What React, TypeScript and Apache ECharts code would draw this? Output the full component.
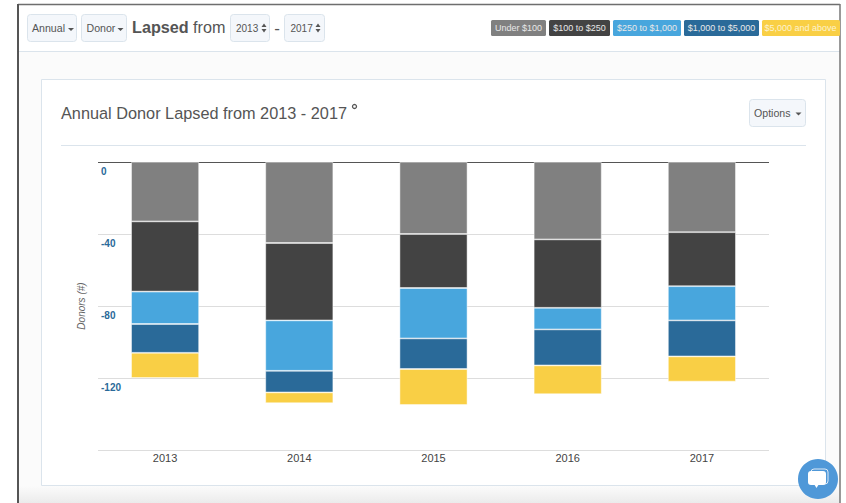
import React, { useEffect, useRef } from "react";
import * as echarts from "echarts";

const years = ["2013", "2014", "2015", "2016", "2017"];
const yTicks = [0, -40, -80, -120];

const seriesNames = ["Under $100", "$100 to $250", "$250 to $1,000", "$1,000 to $5,000", "$5,000 and above"];
const seriesColors = ["#808080", "#434343", "#48a6dd", "#2a6a99", "#f9cf45"];

const under100 = [-33, -45, -40, -43, -39];
const from100to250 = [-39, -43, -30, -38, -30];
const from250to1000 = [-18, -28, -28, -12, -19];
const from1000to5000 = [-16, -12, -17, -20, -20];
const above5000 = [-14, -6, -20, -16, -14];
const seriesValues = [under100, from100to250, from250to1000, from1000to5000, above5000];

const FONT = "'Liberation Sans', Arial, sans-serif";
const TEXT = "#555555";
const BORDER = "#dbe4ec";

// Rounded bootstrap-style button with a left-set caption.
function button(x: number, y: number, w: number, h: number, label: string, textX: number, fontSize = 10.6) {
  return [
    {
      type: "rect",
      z: -1,
      shape: { x: x + 0.5, y: y + 0.5, width: w, height: h, r: 3 },
      style: { fill: "#f4f7fb", stroke: BORDER, lineWidth: 1 },
    },
    {
      type: "text",
      z: -1,
      x: textX,
      y: y + h / 2 + 0.5,
      style: { text: label, fill: TEXT, font: `${fontSize}px ${FONT}`, verticalAlign: "middle", textAlign: "left" },
    },
  ];
}

function caret(x: number, y: number, size = 3) {
  return {
    type: "polygon",
    z: -1,
    shape: { points: [[x - size, y], [x + size, y], [x, y + size]] },
    style: { fill: TEXT },
  };
}

function spinner(x: number, y: number) {
  return [
    {
      type: "polygon",
      z: -1,
      shape: { points: [[x - 2.5, y - 1], [x + 2.5, y - 1], [x, y - 4.5]] },
      style: { fill: TEXT },
    },
    {
      type: "polygon",
      z: -1,
      shape: { points: [[x - 2.5, y + 1], [x + 2.5, y + 1], [x, y + 4.5]] },
      style: { fill: TEXT },
    },
  ];
}

const badgeBoxes = [
  [491, 55],
  [549, 61],
  [613, 68],
  [684, 75],
  [762, 78],
];

function badges() {
  return seriesNames.flatMap((name, i) => {
    const [x, w] = badgeBoxes[i];
    return [
      {
        type: "rect",
        z: -1,
        shape: { x, y: 20, width: w, height: 16, r: 1.5 },
        style: { fill: seriesColors[i] },
      },
      {
        type: "text",
        z: -1,
        x: x + w / 2 - (i === 4 ? 0.5 : 0),
        y: 28,
        style: {
          text: name,
          fill: i === 4 ? "#fdf3d0" : "#e8e8e8",
          font: `9px ${FONT}`,
          textAlign: "center",
          verticalAlign: "middle",
        },
      },
    ];
  });
}

function pageChrome() {
  return [
    // Panel behind the card, with the soft shadow along the page bottom.
    { type: "rect", z: -1, shape: { x: 18, y: 5, width: 822, height: 498 }, style: { fill: "#fbfbfb" } },
    {
      type: "rect",
      z: -1,
      shape: { x: 18, y: 486, width: 822, height: 17 },
      style: {
        fill: {
          type: "linear",
          x: 0,
          y: 0,
          x2: 0,
          y2: 1,
          colorStops: [
            { offset: 0, color: "#fbfbfb" },
            { offset: 1, color: "#ebebeb" },
          ],
        },
      },
    },
    // Toolbar strip
    { type: "rect", z: -1, shape: { x: 18, y: 5, width: 822, height: 46 }, style: { fill: "#ffffff" } },
    { type: "line", z: -1, shape: { x1: 18, y1: 51.5, x2: 840, y2: 51.5 }, style: { stroke: BORDER, lineWidth: 1 } },
    // Window frame
    { type: "line", z: -1, shape: { x1: 18, y1: 4.5, x2: 840, y2: 4.5 }, style: { stroke: "#6e6e6e", lineWidth: 1.5 } },
    { type: "line", z: -1, shape: { x1: 18, y1: 4, x2: 18, y2: 503 }, style: { stroke: "#555555", lineWidth: 2 } },
    { type: "line", z: -1, shape: { x1: 840, y1: 4, x2: 840, y2: 503 }, style: { stroke: "#777777", lineWidth: 1.5 } },
    // Card
    {
      type: "rect",
      z: -1,
      shape: { x: 41.5, y: 79.5, width: 784, height: 406 },
      style: { fill: "#ffffff", stroke: BORDER, lineWidth: 1 },
    },
    { type: "line", z: -1, shape: { x1: 61, y1: 145.5, x2: 806, y2: 145.5 }, style: { stroke: BORDER, lineWidth: 1 } },
    // Toolbar controls
    ...button(27, 14, 49, 27, "Annual", 32),
    caret(71, 28),
    ...button(81, 14, 45, 27, "Donor", 86.5),
    caret(120.5, 28),
    {
      type: "text",
      z: -1,
      x: 132,
      y: 27,
      style: { text: "Lapsed", fill: TEXT, font: `bold 16.2px ${FONT}`, verticalAlign: "middle" },
    },
    {
      type: "text",
      z: -1,
      x: 193,
      y: 27,
      style: { text: "from", fill: TEXT, font: `16.2px ${FONT}`, verticalAlign: "middle" },
    },
    ...button(230, 14, 39, 27, "2013", 236, 10),
    ...spinner(264, 28),
    {
      type: "text",
      z: -1,
      x: 277,
      y: 28,
      style: { text: "-", fill: TEXT, font: `17px ${FONT}`, verticalAlign: "middle", textAlign: "center" },
    },
    ...button(284, 14, 40, 27, "2017", 290.5, 10),
    ...spinner(318, 28),
    ...badges(),
    // Card heading
    {
      type: "text",
      z: -1,
      x: 61,
      y: 112.5,
      style: { text: "Annual Donor Lapsed from 2013 - 2017", fill: TEXT, font: `16.3px ${FONT}`, verticalAlign: "middle" },
    },
    { type: "circle", z: -1, shape: { cx: 354.5, cy: 106.5, r: 2 }, style: { fill: "none", stroke: TEXT, lineWidth: 1.3 } },
    ...button(749, 99, 56, 27, "Options", 754),
    caret(798.5, 112.5),
    // Chat launcher
    { type: "circle", z: -1, shape: { cx: 818, cy: 479, r: 20 }, style: { fill: "#4f98d8" } },
    {
      type: "rect",
      z: -1,
      shape: { x: 811, y: 469, width: 17, height: 15, r: 3 },
      style: { fill: "none", stroke: "#dfeaf6", lineWidth: 1 },
    },
    { type: "rect", z: -1, shape: { x: 808, y: 471, width: 18, height: 14, r: 3 }, style: { fill: "#ffffff" } },
    { type: "polygon", z: -1, shape: { points: [[814, 484], [819, 484], [816.5, 488]] }, style: { fill: "#ffffff" } },
  ];
}

export default function App() {
  const ref = useRef<HTMLDivElement>(null);

  useEffect(() => {
    const chart = echarts.init(ref.current!, undefined, { renderer: "svg" });
    chart.setOption({
      animation: false,
      backgroundColor: "#ffffff",
      textStyle: { fontFamily: FONT },
      grid: { left: 98, right: 77, top: 162, bottom: 53 },
      graphic: { elements: pageChrome() },
      xAxis: {
        type: "category",
        data: years,
        position: "bottom",
        axisLine: { onZero: false, show: false },
        axisTick: { show: false },
        axisLabel: { color: "#444444", fontSize: 11, margin: 2 },
      },
      yAxis: {
        type: "value",
        min: -160,
        max: 0,
        interval: 40,
        name: "Donors (#)",
        nameLocation: "middle",
        nameGap: 12,
        nameTextStyle: { color: "#666666", fontSize: 10, fontStyle: "italic" },
        axisLine: { show: false },
        axisTick: { show: false },
        splitLine: {
          lineStyle: { color: ["#dddddd", "#dddddd", "#dddddd", "#dddddd", "#555555"], width: 1 },
        },
        axisLabel: {
          inside: true,
          margin: 3,
          color: "#2a6a99",
          fontSize: 10,
          fontWeight: "bold",
          verticalAlign: "top",
          padding: [4, 0, 0, 0],
          formatter: (v: number) => (yTicks.includes(v) ? String(v) : ""),
        },
      },
      series: seriesNames.map((name, i) => ({
        name,
        type: "bar",
        stack: "donors",
        barWidth: 68,
        data: seriesValues[i],
        itemStyle: { color: seriesColors[i], borderColor: "rgba(255,255,255,0.6)", borderWidth: 0.8 },
      })),
    });
    return () => chart.dispose();
  }, []);

  return <div ref={ref} style={{ position: "fixed", left: 0, top: 0, width: 846, height: 503 }} />;
}
